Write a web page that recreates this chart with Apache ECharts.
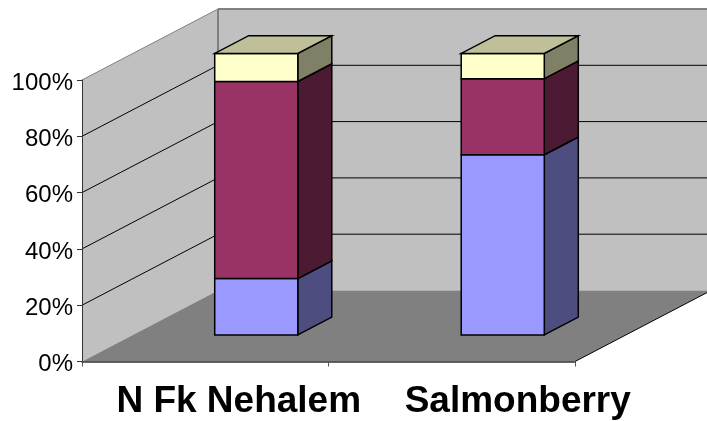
<!DOCTYPE html>
<html>
<head>
<meta charset="utf-8">
<style>html,body{margin:0;padding:0;background:#fff}#chart{width:707px;height:421px}</style>
<script src="https://cdn.jsdelivr.net/npm/echarts@6/dist/echarts.min.js"></script>
</head>
<body>
<div id="chart"></div>
<script>
// Share of each class per stream, in percent
const categories = ['N Fk Nehalem', 'Salmonberry'];
const lowerShare = [20, 64];
const middleShare = [70, 27];
const upperShare = [10, 9];
const yTicks = [0, 20, 40, 60, 80, 100];

// Oblique projection: how far the back of the plot sits from its front edge
const DEPTH_X = 136;
const DEPTH_Y = -71;
const BAR_FRONT = 0.375;
const BAR_BACK = 0.625;
const BAR_WIDTH = 0.337;

const layers = [
  { name: 'Lower', values: lowerShare, below: [0, 0], front: '#9999FF', side: '#4D4D80', top: '#7A7ACC' },
  { name: 'Middle', values: middleShare, below: lowerShare, front: '#993366', side: '#4D1A33', top: '#7A2952' },
  { name: 'Upper', values: upperShare, below: lowerShare.map((v, i) => v + middleShare[i]), front: '#FFFFCC', side: '#808066', top: '#BFBF99' }
];

function at(p, d) {
  return [p[0] + DEPTH_X * d, p[1] + DEPTH_Y * d];
}

function poly(points, fill, stroke, width) {
  return {
    type: 'polygon',
    shape: { points },
    style: { fill, stroke: stroke || null, lineWidth: width || 0 }
  };
}

function line(a, b, color, width) {
  return {
    type: 'line',
    shape: { x1: a[0], y1: a[1], x2: b[0], y2: b[1] },
    style: { stroke: color, lineWidth: width, fill: null }
  };
}

// Side wall, back wall and floor
function renderRoom(params, api) {
  const c = params.coordSys;
  const fl = [c.x, c.y + c.height], fr = [c.x + c.width, c.y + c.height];
  const tl = [c.x, c.y];
  const tr = [c.x + c.width, c.y];
  return {
    type: 'group',
    children: [
      poly([tl, at(tl, 1), at(fl, 1), fl], '#C0C0C0'),
      poly([at(tl, 1), at(tr, 1), at(fr, 1), at(fl, 1)], '#C0C0C0'),
      poly([fl, fr, at(fr, 1), at(fl, 1)], '#808080'),
      line(tl, at(tl, 1), '#808080', 1),
      line(at(tl, 1), at(tr, 1), '#808080', 2),
      line(at(tl, 1), at(fl, 1), '#808080', 2),
      line(fr, at(fr, 1), '#000000', 1)
    ]
  };
}

// One horizontal gridline, folded along the side wall and the back wall
function renderGrid(params, api) {
  const c = params.coordSys;
  const y = api.coord([0, api.value(0)])[1];
  const left = [c.x, y], right = [c.x + c.width, y];
  return {
    type: 'group',
    children: [
      line(left, at(left, 1), '#000000', 1),
      line(at(left, 1), at(right, 1), '#000000', 1)
    ]
  };
}

// One stacked block drawn as a box standing on the floor
function makeBlock(layer, isTop) {
  return function (params, api) {
    const idx = api.value(0);
    const base = api.value(1), top = base + api.value(2);
    const half = api.size([1, 0])[0] * BAR_WIDTH / 2;
    const cx = api.coord([idx, 0])[0];
    const y0 = api.coord([idx, base])[1], y1 = api.coord([idx, top])[1];
    const fbl = at([cx - half, y0], BAR_FRONT), fbr = at([cx + half, y0], BAR_FRONT);
    const ftl = at([cx - half, y1], BAR_FRONT), ftr = at([cx + half, y1], BAR_FRONT);
    const bbr = at([cx + half, y0], BAR_BACK), btr = at([cx + half, y1], BAR_BACK);
    const btl = at([cx - half, y1], BAR_BACK);
    const parts = [
      poly([fbr, bbr, btr, ftr], layer.side, '#000000', 1.5),
      poly([fbl, fbr, ftr, ftl], layer.front, '#000000', 1.5)
    ];
    if (isTop) parts.push(poly([ftl, ftr, btr, btl], layer.top, '#000000', 1.5));
    return { type: 'group', children: parts };
  };
}

const blockSeries = layers.map((layer, n) => ({
  name: layer.name,
  type: 'custom',
  coordinateSystem: 'cartesian2d',
  z: 5 + n,
  renderItem: makeBlock(layer, n === layers.length - 1),
  encode: { x: 0, y: 1 },
  data: layer.values.map((v, i) => [i, layer.below[i], v])
}));

const chart = echarts.init(document.getElementById('chart'), null, { renderer: 'canvas' });
chart.setOption({
  animation: false,
  backgroundColor: '#ffffff',
  textStyle: { fontFamily: '"Liberation Sans", Arial, sans-serif' },
  grid: { left: 82, right: 132, top: 80, bottom: 59.5 },
  xAxis: {
    type: 'category',
    data: categories,
    z: 10,
    axisLine: { lineStyle: { color: '#333333', width: 1.5 } },
    axisTick: { show: true, alignWithLabel: false, length: 5, lineStyle: { color: '#555555', width: 1 } },
    axisLabel: {
      interval: 0,
      hideOverlap: false,
      margin: 22,
      formatter: (v, i) => `{c${i}|${v}}`,
      rich: {
        c0: { fontSize: 37, fontWeight: 'bold', color: '#000', fontFamily: '"Liberation Sans", Arial, sans-serif', padding: [0, 0, 0, 67] },
        c1: { fontSize: 37, fontWeight: 'bold', color: '#000', fontFamily: '"Liberation Sans", Arial, sans-serif', padding: [0, 0, 0, 132] }
      }
    }
  },
  yAxis: {
    type: 'value',
    min: 0,
    max: 100,
    interval: 20,
    z: 10,
    splitLine: { show: false },
    axisLine: { show: true, lineStyle: { color: '#333333', width: 1 } },
    axisTick: { show: true, length: 5, lineStyle: { color: '#333333', width: 1 } },
    axisLabel: {
      margin: 9,
      formatter: '{t|{value}%}',
      rich: { t: { fontSize: 24, color: '#000', fontFamily: '"Liberation Sans", Arial, sans-serif', padding: [6, 0, 0, 0] } }
    }
  },
  series: [
    {
      name: 'Room',
      type: 'custom',
      coordinateSystem: 'cartesian2d',
      z: 1,
      renderItem: renderRoom,
      encode: { x: 0, y: 1 },
      data: [[0, 0]]
    },
    {
      name: 'Gridlines',
      type: 'custom',
      coordinateSystem: 'cartesian2d',
      z: 2,
      renderItem: renderGrid,
      encode: { y: 0 },
      data: yTicks.slice(1, -1).map(v => [v])
    }
  ].concat(blockSeries)
});
</script>
</body>
</html>
